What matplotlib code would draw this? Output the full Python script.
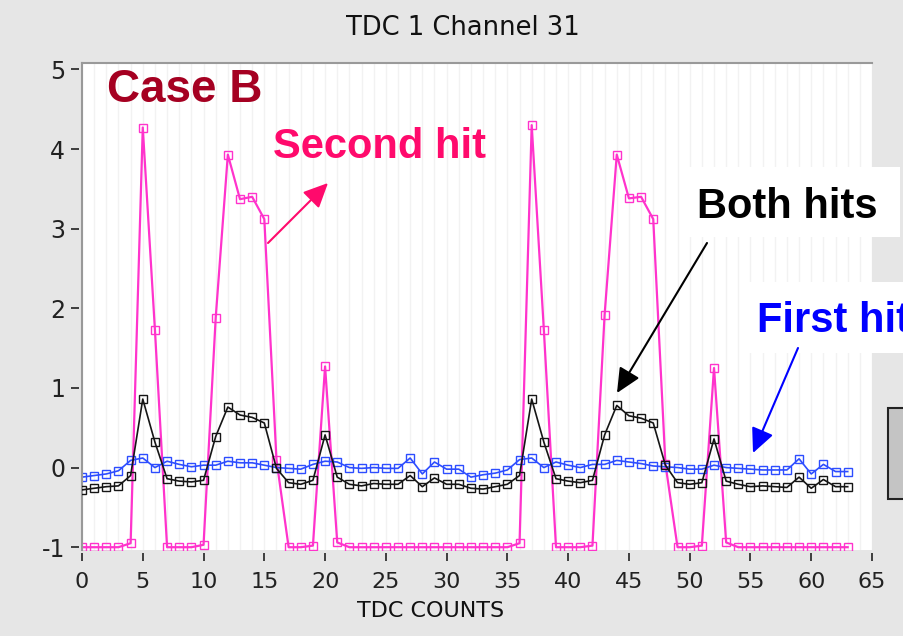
import matplotlib
matplotlib.use("Agg")
import matplotlib.pyplot as plt
from matplotlib.patches import Rectangle, FancyArrowPatch
from matplotlib.lines import Line2D
import numpy as np

plt.rcParams["axes.unicode_minus"] = False

# ---------------- data ----------------
tdc_counts = list(range(64))

second_hit = [-1, -1, -1, -1, -0.95, 4.27, 1.73, -1, -1, -1,
              -0.97, 1.88, 3.93, 3.37, 3.40, 3.12, 0.10, -1, -1, -0.98,
              1.27, -0.94, -1, -1, -1, -1, -1, -1, -1, -1,
              -1, -1, -1, -1, -1, -1, -0.95, 4.30, 1.73, -1,
              -1, -1, -0.98, 1.92, 3.93, 3.38, 3.40, 3.12, 0.05, -1,
              -1, -0.98, 1.25, -0.94, -1, -1, -1, -1, -1, -1,
              -1, -1, -1, -1]

first_hit = [-0.12, -0.10, -0.08, -0.04, 0.09, 0.12, 0.00, 0.08, 0.04, 0.01,
             0.03, 0.03, 0.08, 0.06, 0.06, 0.03, 0.00, -0.01, -0.02, 0.04,
             0.08, 0.07, 0.00, -0.01, 0.00, -0.01, -0.01, 0.12, -0.08, 0.07,
             -0.02, -0.02, -0.12, -0.09, -0.07, -0.03, 0.10, 0.12, 0.00, 0.07,
             0.03, 0.00, 0.04, 0.04, 0.09, 0.07, 0.05, 0.02, 0.01, 0.00,
             -0.02, -0.02, 0.03, 0.00, -0.01, -0.02, -0.03, -0.03, -0.03, 0.11,
             -0.08, 0.04, -0.05, -0.05]

both_hits = [-0.28, -0.26, -0.24, -0.23, -0.10, 0.86, 0.32, -0.14, -0.17, -0.18,
             -0.16, 0.39, 0.76, 0.66, 0.63, 0.56, -0.01, -0.19, -0.21, -0.16,
             0.41, -0.12, -0.21, -0.23, -0.20, -0.21, -0.21, -0.10, -0.24, -0.13,
             -0.21, -0.21, -0.26, -0.27, -0.24, -0.21, -0.10, 0.86, 0.32, -0.14,
             -0.17, -0.19, -0.16, 0.41, 0.78, 0.65, 0.62, 0.56, 0.03, -0.19,
             -0.21, -0.19, 0.36, -0.17, -0.21, -0.24, -0.23, -0.24, -0.25, -0.12,
             -0.26, -0.15, -0.24, -0.24]

x_ticks = list(range(0, 70, 5))
y_ticks = [-1, 0, 1, 2, 3, 4, 5]

title_text = "TDC 1 Channel 31"
xlabel_text = "TDC COUNTS"

# ---------------- figure ----------------
W, H = 904, 636
fig = plt.figure(figsize=(W / 100, H / 100), dpi=100, facecolor="#e6e6e6")


def fx(px):
    return px / W


def fy(py):
    return 1 - py / H


ax = fig.add_axes([fx(82), fy(550), fx(872) - fx(82), fy(63) - fy(550)])
ax.set_facecolor("white")
ax.set_xlim(0, 65)
ax.set_ylim(-1.035, 5.08)

# faint vertical grid at every count
ax.set_xticks(x_ticks)
ax.set_xticks(range(0, 66), minor=True)
ax.grid(which="both", axis="x", color="#f2f2f2", lw=1.0)
ax.set_axisbelow(True)
ax.tick_params(which="minor", length=0)

ax.set_yticks(y_ticks)
ax.set_yticklabels([str(v) for v in y_ticks])

for s in ["right", "bottom", "left"]:
    ax.spines[s].set_color("none")
ax.spines["top"].set_color("#999999")
ax.spines["top"].set_linewidth(1.5)
ax.spines["bottom"].set_position(("outward", 2.5))
ax.spines["left"].set_position(("outward", 2.5))
ax.add_line(Line2D([0, 0], [0, 1], transform=ax.transAxes, color="#999999",
                   lw=1.5, clip_on=False, zorder=5))

ax.tick_params(axis="x", which="major", length=6, width=1.2, color="#222222",
               pad=7, labelsize=16, labelcolor="#222222")
ax.tick_params(axis="y", which="major", length=5.5, width=1.2, color="#222222",
               pad=4, labelsize=17, labelcolor="#222222")

mk = dict(marker="s", markersize=6, markerfacecolor="none", markeredgewidth=1.0)
ax.plot(tdc_counts, second_hit, color="#ff33cc", lw=1.6, zorder=3, **mk)
ax.plot(tdc_counts, first_hit, color="#2d4dff", lw=1.2, zorder=4, **mk)
ax.plot(tdc_counts, both_hits, color="#151515", lw=1.2, zorder=5, **mk)

fig.text(fx(463), fy(28), title_text, ha="center", va="center",
         fontsize=18.5, color="#111111")
fig.text(fx(431), fy(611), xlabel_text, ha="center", va="center",
         fontsize=16, color="#111111")

# ---------------- right side panel decorations ----------------
fig.patches.append(Rectangle((fx(680), fy(237)), fx(900) - fx(680), fy(167) - fy(237),
                             transform=fig.transFigure, facecolor="white",
                             edgecolor="none", zorder=2))
fig.patches.append(Rectangle((fx(742), fy(353)), fx(904) - fx(742), fy(282) - fy(353),
                             transform=fig.transFigure, facecolor="white",
                             edgecolor="none", zorder=2))
fig.patches.append(Rectangle((fx(888), fy(499)), fx(906) - fx(888), fy(408) - fy(499),
                             transform=fig.transFigure, facecolor="#c4c4c4",
                             edgecolor="#222222", lw=1.5, zorder=2))

# ---------------- annotations ----------------
fig.text(fx(107), fy(102), "Case B", ha="left", va="baseline", fontsize=33,
         fontweight="bold", family="Liberation Sans", color="#a50021", zorder=6)
fig.text(fx(273), fy(158), "Second hit", ha="left", va="baseline", fontsize=30,
         fontweight="bold", family="Liberation Sans", color="#ff0a6c", zorder=6)
fig.text(fx(697), fy(218), "Both hits", ha="left", va="baseline", fontsize=30,
         fontweight="bold", family="Liberation Sans", color="black", zorder=6)
fig.text(fx(757), fy(332), "First hit", ha="left", va="baseline", fontsize=30,
         fontweight="bold", family="Liberation Sans", color="#0000ff", zorder=6)


def arrow(p0, p1, color):
    a = FancyArrowPatch((fx(p0[0]), fy(p0[1])), (fx(p1[0]), fy(p1[1])),
                        transform=fig.transFigure,
                        arrowstyle="-|>,head_length=0.75,head_width=0.35",
                        mutation_scale=20, lw=1.5, color=color,
                        shrinkA=0, shrinkB=0, zorder=7)
    fig.patches.append(a)


arrow((268, 243), (328, 183), "#ff0a6c")
arrow((707, 243), (617, 393), "black")
arrow((798, 348), (753, 453), "#0000ff")

fig.savefig("out.png", dpi=100, facecolor=fig.get_facecolor())
